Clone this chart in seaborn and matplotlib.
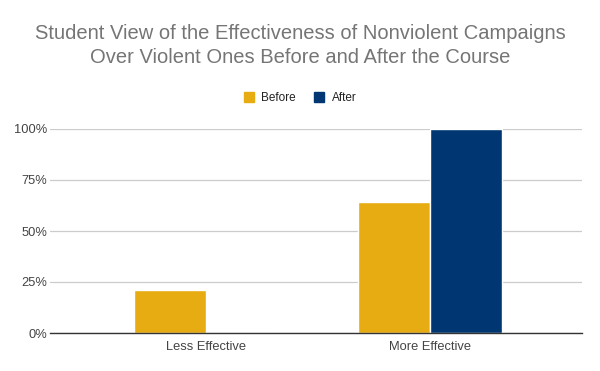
import pandas as pd
import seaborn as sns
import matplotlib.pyplot as plt
from matplotlib.ticker import PercentFormatter
from matplotlib.patches import Patch

categories = ["Less Effective", "More Effective"]
before = [0.21, 0.64]
after = [0.0, 1.0]
series = ["Before", "After"]
colors = ["#E6AC12", "#003671"]

df = pd.DataFrame({
    "category": categories * 2,
    "value": before + after,
    "when": [series[0]] * len(categories) + [series[1]] * len(categories),
})

sns.set_style("white")
plt.rcParams["font.family"] = ["Liberation Sans", "DejaVu Sans"]

fig = plt.figure(figsize=(6, 3.71), dpi=100)
ax = fig.add_axes([50 / 600, 1 - 333 / 371, 532 / 600, 204 / 371])

sns.barplot(data=df, x="category", y="value", hue="when", hue_order=series,
            palette=colors, saturation=1, width=0.643, edgecolor="white",
            linewidth=1, ax=ax, legend=False)

ax.set_xlim(-0.696, 1.679)
ax.set_ylim(0, 1)
ax.set_yticks([0, 0.25, 0.5, 0.75, 1.0])
ax.yaxis.set_major_formatter(PercentFormatter(1.0, decimals=0))
ax.yaxis.grid(True, color="#cccccc", linewidth=0.9)
ax.set_axisbelow(True)
for s in ["top", "right", "left"]:
    ax.spines[s].set_visible(False)
ax.spines["bottom"].set_color("#333333")
ax.spines["bottom"].set_linewidth(1)
ax.tick_params(axis="both", length=0, labelsize=9.3, colors="#444444")
ax.tick_params(axis="y", pad=2)
ax.tick_params(axis="x", pad=6)
ax.set_xlabel("")
ax.set_ylabel("")

fig.suptitle("Student View of the Effectiveness of Nonviolent Campaigns\nOver Violent Ones Before and After the Course",
             x=0.5, y=0.935, fontsize=14.5, color="#757575", linespacing=1.3)

handles = [Patch(facecolor=c, edgecolor=c, label=l) for c, l in zip(colors, series)]
fig.legend(handles=handles, loc="center", bbox_to_anchor=(0.5, 1 - 98 / 371),
           ncol=2, frameon=False, fontsize=8.5, handlelength=0.9, handleheight=0.9,
           handletextpad=0.6, columnspacing=1.5, labelcolor="#222222")

fig.savefig("out.png", dpi=100)
